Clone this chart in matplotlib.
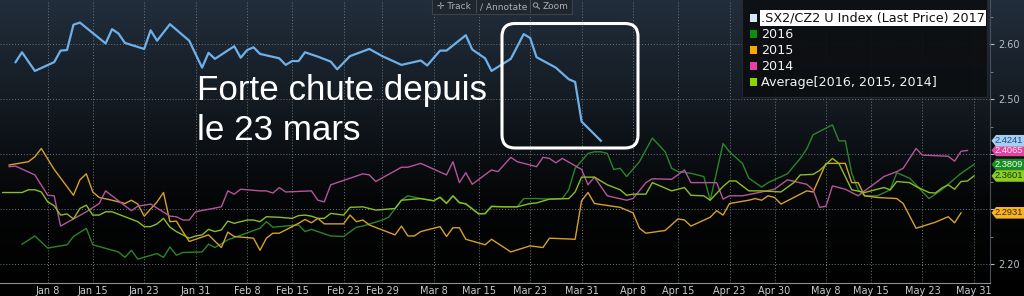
#!/usr/bin/env python
"""SX2/CZ2 ratio: 2017 against the three previous years, seasonal chart.

    python plot.py
"""
import numpy as np
import matplotlib
matplotlib.use("Agg")          # headless: write file, don't display
import matplotlib.pyplot as plt
from matplotlib.patches import FancyBboxPatch, Polygon, Rectangle, Circle
from matplotlib.lines import Line2D
from matplotlib.ticker import FuncFormatter

# x = day offset from Jan 1 on the (leap-year) seasonal axis
days_2017 = [2, 3, 5, 8, 9, 10, 11, 12, 16, 17, 18, 19, 22, 23, 24, 26, 29, 31, 32, 33,
             36, 37, 38, 39, 40, 43, 44, 45, 46, 47, 49, 51, 52, 54, 57, 59, 62, 65, 66, 68,
             69, 72, 73, 75, 76, 79, 81, 82, 83, 86, 88, 89, 90, 93]
vals_2017 = [2.567, 2.585, 2.551, 2.567, 2.588, 2.589, 2.635, 2.639, 2.601, 2.627, 2.619, 2.602,
             2.591, 2.625, 2.606, 2.636, 2.606, 2.557, 2.584, 2.573, 2.596, 2.575, 2.589, 2.594,
             2.582, 2.574, 2.562, 2.569, 2.569, 2.585, 2.577, 2.568, 2.554, 2.578, 2.591, 2.578,
             2.562, 2.570, 2.561, 2.588, 2.588, 2.616, 2.590, 2.574, 2.551, 2.573, 2.618, 2.611,
             2.576, 2.557, 2.536, 2.531, 2.459, 2.4241]

days_2016 = [3, 5, 7, 10, 11, 13, 14, 18, 19, 20, 21, 24, 25, 26, 27, 28, 31, 32, 33, 35,
             40, 41, 42, 46, 47, 48, 51, 53, 55, 56, 59, 60, 62, 63, 65, 67, 68, 69, 70, 71,
             72, 74, 75, 76, 80, 81, 83, 85, 87, 88, 89, 91, 92, 93, 94, 95, 96, 97, 99, 101,
             103, 104, 105, 107, 109, 110, 112, 113, 115, 116, 118, 119, 122, 124, 125, 126,
             129, 130, 131, 132, 133, 134, 136, 138, 139, 141, 142, 144, 146, 149, 151]
vals_2016 = [2.236, 2.251, 2.229, 2.235, 2.250, 2.265, 2.235, 2.222, 2.212, 2.225, 2.209, 2.219,
             2.212, 2.231, 2.216, 2.221, 2.222, 2.236, 2.230, 2.244, 2.265, 2.277, 2.267, 2.271,
             2.259, 2.263, 2.251, 2.250, 2.267, 2.269, 2.280, 2.285, 2.316, 2.324, 2.319, 2.315,
             2.322, 2.311, 2.324, 2.311, 2.310, 2.292, 2.291, 2.304, 2.304, 2.319, 2.319, 2.318,
             2.319, 2.335, 2.374, 2.401, 2.404, 2.404, 2.401, 2.372, 2.374, 2.359, 2.386, 2.429,
             2.404, 2.374, 2.368, 2.365, 2.359, 2.316, 2.419, 2.404, 2.383, 2.356, 2.340, 2.348,
             2.364, 2.392, 2.409, 2.435, 2.453, 2.424, 2.424, 2.365, 2.335, 2.324, 2.324, 2.335,
             2.366, 2.356, 2.344, 2.319, 2.335, 2.365, 2.3809]

days_2015 = [1, 4, 5, 6, 8, 11, 12, 13, 14, 15, 17, 19, 20, 21, 22, 24, 25, 26, 27, 28,
             29, 32, 34, 35, 36, 39, 40, 41, 42, 43, 45, 46, 47, 48, 49, 50, 53, 54, 55, 56,
             57, 61, 62, 63, 64, 65, 68, 69, 70, 71, 72, 75, 76, 79, 82, 84, 85, 89, 90, 91,
             92, 96, 98, 99, 100, 103, 105, 106, 107, 110, 111, 112, 113, 116, 117, 118, 119,
             120, 121, 125, 126, 128, 131, 132, 133, 134, 136, 139, 140, 142, 145, 147, 148, 149]
vals_2015 = [2.380, 2.386, 2.395, 2.410, 2.372, 2.325, 2.353, 2.364, 2.331, 2.321, 2.316, 2.310,
             2.316, 2.309, 2.287, 2.313, 2.330, 2.277, 2.278, 2.259, 2.241, 2.253, 2.230, 2.258,
             2.250, 2.247, 2.225, 2.247, 2.256, 2.256, 2.268, 2.274, 2.281, 2.275, 2.283, 2.273,
             2.273, 2.289, 2.277, 2.280, 2.271, 2.253, 2.269, 2.251, 2.251, 2.259, 2.268, 2.250,
             2.266, 2.266, 2.245, 2.235, 2.245, 2.222, 2.233, 2.230, 2.247, 2.245, 2.315, 2.330,
             2.310, 2.303, 2.293, 2.265, 2.256, 2.261, 2.282, 2.280, 2.269, 2.285, 2.297, 2.289,
             2.310, 2.316, 2.319, 2.316, 2.324, 2.321, 2.309, 2.333, 2.331, 2.383, 2.383, 2.348,
             2.348, 2.324, 2.321, 2.319, 2.310, 2.265, 2.276, 2.286, 2.275, 2.2931]

days_2014 = [1, 2, 5, 7, 8, 9, 11, 13, 15, 16, 18, 20, 21, 23, 26, 27, 28, 29, 30, 34,
             35, 36, 37, 40, 41, 42, 43, 44, 48, 49, 50, 51, 55, 56, 57, 58, 62, 63, 65, 69,
             70, 71, 72, 73, 76, 77, 79, 80, 83, 84, 85, 86, 87, 90, 91, 92, 94, 97, 98, 100,
             101, 104, 106, 107, 111, 112, 113, 115, 118, 120, 122, 125, 126, 127, 128, 129,
             131, 133, 134, 136, 137, 139, 140, 142, 143, 147, 148, 149, 150]
vals_2014 = [2.377, 2.378, 2.362, 2.325, 2.324, 2.269, 2.282, 2.295, 2.310, 2.333, 2.315, 2.297,
             2.305, 2.309, 2.287, 2.286, 2.280, 2.280, 2.295, 2.304, 2.333, 2.327, 2.336, 2.333,
             2.333, 2.329, 2.339, 2.331, 2.333, 2.316, 2.313, 2.344, 2.360, 2.364, 2.362, 2.350,
             2.376, 2.376, 2.383, 2.362, 2.386, 2.348, 2.366, 2.345, 2.371, 2.368, 2.394, 2.386,
             2.377, 2.394, 2.392, 2.384, 2.392, 2.372, 2.344, 2.358, 2.324, 2.316, 2.319, 2.348,
             2.355, 2.354, 2.371, 2.348, 2.348, 2.318, 2.324, 2.324, 2.331, 2.336, 2.353, 2.345,
             2.335, 2.303, 2.305, 2.342, 2.336, 2.324, 2.333, 2.350, 2.359, 2.368, 2.374, 2.410,
             2.398, 2.396, 2.387, 2.405, 2.4065]

days_avg = [0, 3, 4, 5, 6, 7, 8, 9, 10, 11, 12, 13, 14, 15, 16, 17, 19, 21, 22, 23,
            24, 25, 26, 27, 29, 30, 31, 32, 33, 34, 35, 36, 38, 39, 40, 41, 43, 45, 46, 47,
            48, 49, 50, 51, 53, 54, 56, 58, 60, 61, 62, 65, 67, 68, 69, 70, 71, 72, 74, 75,
            76, 78, 80, 82, 83, 85, 88, 89, 90, 92, 94, 96, 97, 98, 100, 101, 104, 106, 107,
            109, 110, 112, 113, 114, 116, 118, 121, 123, 124, 126, 127, 129, 130, 132, 134,
            135, 137, 138, 139, 141, 142, 144, 145, 146, 147, 148, 149, 150, 151]
vals_avg = [2.330, 2.330, 2.335, 2.335, 2.331, 2.313, 2.306, 2.289, 2.291, 2.282, 2.301, 2.307,
            2.289, 2.289, 2.295, 2.295, 2.286, 2.277, 2.268, 2.268, 2.273, 2.283, 2.267, 2.259,
            2.247, 2.251, 2.253, 2.263, 2.259, 2.262, 2.278, 2.274, 2.280, 2.280, 2.277, 2.286,
            2.285, 2.283, 2.288, 2.289, 2.287, 2.283, 2.283, 2.292, 2.289, 2.303, 2.304, 2.298,
            2.300, 2.301, 2.316, 2.319, 2.315, 2.321, 2.310, 2.324, 2.312, 2.309, 2.291, 2.292,
            2.305, 2.304, 2.304, 2.310, 2.311, 2.318, 2.319, 2.331, 2.358, 2.358, 2.344, 2.335,
            2.325, 2.327, 2.327, 2.348, 2.333, 2.339, 2.325, 2.324, 2.316, 2.341, 2.351, 2.351,
            2.333, 2.333, 2.331, 2.348, 2.362, 2.363, 2.370, 2.392, 2.383, 2.335, 2.330, 2.333,
            2.339, 2.335, 2.350, 2.348, 2.341, 2.330, 2.329, 2.338, 2.344, 2.336, 2.350, 2.351,
            2.3601]

tick_labels = ["Jan 8", "Jan 15", "Jan 23", "Jan 31", "Feb 8", "Feb 15", "Feb 23", "Feb 29",
               "Mar 8", "Mar 15", "Mar 23", "Mar 31", "Apr 8", "Apr 15", "Apr 23", "Apr 30",
               "May 8", "May 15", "May 23", "May 31"]
tick_days = [7, 14, 22, 30, 38, 45, 53, 59, 67, 74, 82, 90, 98, 105, 113, 120, 128, 135, 143, 151]
y_ticks = [2.20, 2.30, 2.40, 2.50, 2.60]
y_hidden = [2.30, 2.40]          # these labels sit under the price tags

legend_labels = [".SX2/CZ2 U Index (Last Price) 2017", "2016", "2015", "2014",
                 "Average[2016, 2015, 2014]"]
last_labels = ["2.4241", "2.4065", "2.3809", "2.3601", "2.2931"]

BLUE, GREEN, ORANGE, PINK, LIME = "#6db0ea", "#2a852a", "#d6a02c", "#b4559a", "#8cbc24"
NARROW = ["Liberation Sans Narrow", "DejaVu Sans"]


def value_tag(fig, ax, value, text, face, fg):
    # little left-pointing price tag in the right margin, pixel sized
    y = ax.transData.transform((0, value))[1] / fig.dpi
    x0, x1, h = 9.915, 10.30, 0.058
    pts = [(x0, y), (x0 + 0.045, y + h), (x1, y + h), (x1, y - h), (x0 + 0.045, y - h)]
    fig.add_artist(Polygon(pts, closed=True, transform=fig.dpi_scale_trans,
                           facecolor=face, edgecolor="none", zorder=5))
    fig.text(9.945 / 10.24, y / 2.96, text, color=fg, fontsize=6.7, va="center", ha="left",
             family=["Liberation Sans", "DejaVu Sans"], zorder=6)


def main():
    fig = plt.figure(figsize=(10.24, 2.96), dpi=100)

    # dark slate -> black background gradient
    bg = fig.add_axes([0, 0, 1, 1], zorder=-10)
    grad = np.linspace(0, 1, 256).reshape(-1, 1)
    cmap = matplotlib.colors.LinearSegmentedColormap.from_list(
        "bbg", ["#222e3b", "#141b23", "#050607", "#000000"])
    bg.imshow(grad, aspect="auto", cmap=cmap, extent=[0, 1, 0, 1])
    bg.axis("off")

    ax = fig.add_axes([0, 13 / 296, 990 / 1024, 283 / 296])
    ax.set_facecolor("none")

    ax.plot(days_2016, vals_2016, color=GREEN, lw=1.0)
    ax.plot(days_2015, vals_2015, color=ORANGE, lw=1.0)
    ax.plot(days_2014, vals_2014, color=PINK, lw=1.0)
    ax.plot(days_avg, vals_avg, color=LIME, lw=1.0)
    ax.plot(days_2017, vals_2017, color=BLUE, lw=1.6)

    ax.set_xlim(-0.42, 153.5)
    ax.set_ylim(2.1655, 2.68)

    ax.set_xticks(tick_days)
    ax.set_xticklabels(tick_labels)
    ax.set_yticks(y_ticks)
    ax.set_yticks(np.arange(2.20, 2.66, 0.05), minor=True)
    ax.yaxis.set_major_formatter(FuncFormatter(
        lambda v, _: "" if any(abs(v - h) < 1e-6 for h in y_hidden) else f"{v:.2f}"))
    ax.yaxis.tick_right()
    ax.tick_params(axis="x", length=0, pad=2, labelsize=7, colors="#c8ccd0")
    ax.tick_params(axis="y", which="major", length=3, pad=3, labelsize=7,
                   colors="#b8bec4")
    ax.tick_params(axis="y", which="minor", length=2, colors="#8a9096")
    ax.grid(True, which="major", color="#6c7680", lw=0.7, linestyle=(0, (1, 2)))

    for side in ("top", "left"):
        ax.spines[side].set_visible(False)
    ax.spines["bottom"].set_color("#8c9094")
    ax.spines["right"].set_color("#4a5058")

    # price tags for the last values
    value_tag(fig, ax, vals_2014[-1], last_labels[1], "#e2449e", "#ffe8f4")
    value_tag(fig, ax, vals_2017[-1], last_labels[0], "#a6cff2", "#1c4c86")
    value_tag(fig, ax, vals_2016[-1], last_labels[2], "#1a8c26", "#f0fff0")
    value_tag(fig, ax, vals_avg[-1], last_labels[3], "#8ccf1e", "#14300a")
    value_tag(fig, ax, vals_2015[-1], last_labels[4], "#f8b420", "#3a2600")

    # legend box, drawn by hand to get the terminal look
    fig.add_artist(Rectangle((7.42, 1.99), 2.45, 1.0, transform=fig.dpi_scale_trans,
                             facecolor="#0c0e11", edgecolor="#262a2f", lw=0.8, alpha=0.92,
                             zorder=4))
    sq = ["#d4e8f8", "#0c900c", "#f6a800", "#e8409c", "#8ed400"]
    for i, (lab, c) in enumerate(zip(legend_labels, sq)):
        yc = 2.96 - (0.18 + 0.16 * i)
        fig.add_artist(Rectangle((7.495, yc - 0.037), 0.075, 0.075,
                                 transform=fig.dpi_scale_trans, facecolor=c,
                                 edgecolor="none", zorder=5))
        kw = dict(fontsize=9.2, va="center", ha="left", zorder=6, family=NARROW)
        if i == 0:
            kw.update(color="#101010",
                      bbox=dict(facecolor="white", edgecolor="none", pad=0.8))
        else:
            kw.update(color="#f2f2f2")
        fig.text(7.61 / 10.24, yc / 2.96, lab, **kw)

    # toolbar strip at the top
    fig.add_artist(Rectangle((4.32, 2.82), 1.40, 0.16, transform=fig.dpi_scale_trans,
                             facecolor="#1f262d", edgecolor="#3a414a", lw=0.8, zorder=4))
    for xs in (4.765, 5.30):
        fig.add_artist(Rectangle((xs, 2.83), 0.006, 0.13, transform=fig.dpi_scale_trans,
                                 facecolor="#444c56", edgecolor="none", zorder=5))
    for xt, t in ((4.37, "\u271b Track"), (4.80, "\u2215 Annotate"), (5.43, "Zoom")):
        fig.text(xt / 10.24, 2.895 / 2.96, t, fontsize=6.5, color="#a8b0b8",
                 va="center", ha="left", zorder=6, family=["DejaVu Sans", "Noto Sans"])
    # magnifier icon in front of "Zoom"
    fig.add_artist(Circle((5.355, 2.91), 0.022, transform=fig.dpi_scale_trans,
                          facecolor="none", edgecolor="#8a929a", lw=0.8, zorder=6))
    fig.add_artist(Line2D([5.37, 5.395], [2.893, 2.872], transform=fig.dpi_scale_trans,
                          color="#8a929a", lw=0.9, zorder=6))

    # annotation
    fig.add_artist(FancyBboxPatch((5.02, 1.48), 1.36, 1.245,
                                  boxstyle="round,pad=0,rounding_size=0.13",
                                  transform=fig.dpi_scale_trans, facecolor="none",
                                  edgecolor="white", lw=2.2, zorder=6))
    for yb, line in ((1.96, "Forte chute depuis"), (1.56, "le 23 mars")):
        fig.text(1.97 / 10.24, yb / 2.96, line, fontsize=25.2, color="white",
                 va="baseline", ha="left", family=["Liberation Sans", "DejaVu Sans"],
                 zorder=6)

    fig.savefig("out.png", dpi=100)
    plt.close(fig)
    print("saved out.png")


if __name__ == "__main__":
    main()
